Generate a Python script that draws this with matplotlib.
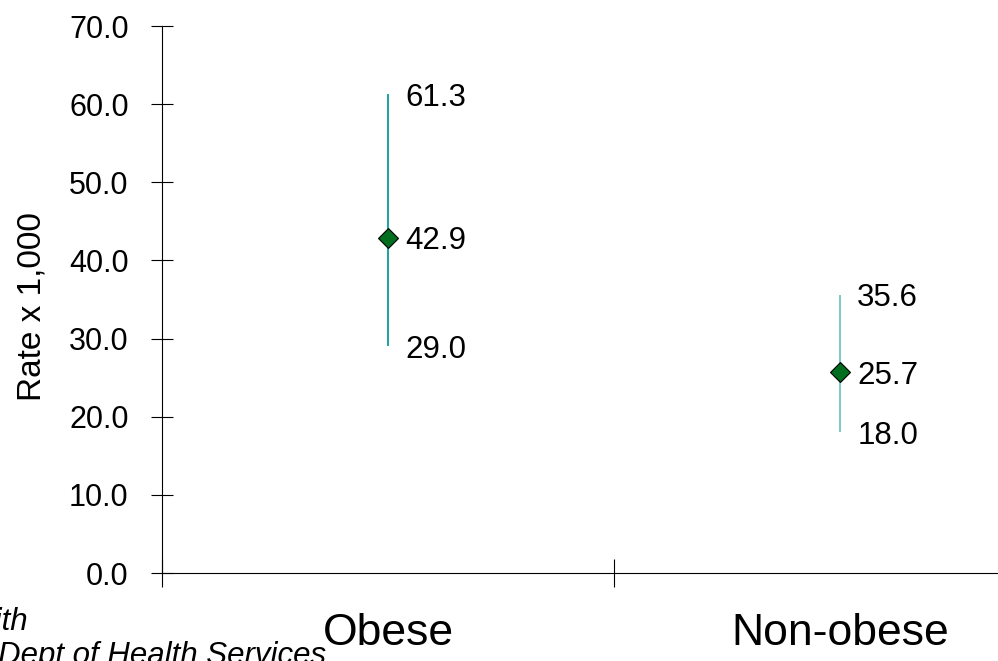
import matplotlib.pyplot as plt
import numpy as np

plt.rcParams['font.family'] = ['Liberation Sans', 'DejaVu Sans']

# Rates per 1,000 with confidence limits
groups = ['Obese', 'Non-obese']
rate = [42.9, 25.7]
lower = [29.0, 18.0]
upper = [61.3, 35.6]
line_colors = ['#1aa3a3', '#7cc8c8']

fig = plt.figure(figsize=(9.98, 6.61), dpi=100)
ax = fig.add_axes([0.1623, 0.1331, 0.9058, 0.8275])

xpos = np.arange(len(groups)) + 0.5
for x, r, lo, hi, c in zip(xpos, rate, lower, upper, line_colors):
    ax.vlines(x, lo, hi, color=c, lw=1.4, zorder=2)
    ax.plot(x, r, marker='D', ms=10, mfc='#006e1e', mec='black', mew=0.8, zorder=3)
    for v in (lo, r, hi):
        ax.text(x + 0.038, v, f'{v:.1f}', fontsize=22.5, va='center_baseline', ha='left')

ax.set_xlim(0, 2)
ax.set_ylim(0, 70)
yt = np.arange(0, 71, 10)
ax.set_yticks(yt)
ax.set_yticklabels([f'{v:.1f}' for v in yt], fontsize=22)
ax.set_xticks([0, 1, 2])
ax.set_xticklabels([])
ax.set_xticks(xpos, minor=True)
ax.set_xticklabels(groups, minor=True, fontsize=32)
ax.tick_params(axis='x', which='minor', length=0, pad=29)
ax.tick_params(axis='x', which='major', direction='inout', length=20, width=0.8)
ax.tick_params(axis='y', direction='inout', length=16, width=0.8, pad=16)
ax.set_ylabel('Rate x 1,000', fontsize=24)
ax.yaxis.set_label_coords(-0.127, 0.488)

for s in ('top', 'right'):
    ax.spines[s].set_visible(False)

# source note, runs off the left/bottom edge
fig.text(0.028, 0.0469, 'with', fontsize=22.5, style='italic', ha='right', va='baseline')
fig.text(0.3267, -0.0045, 'Dept of Health Services', fontsize=22.5, style='italic',
         ha='right', va='baseline')

fig.savefig('out.png', dpi=100)
